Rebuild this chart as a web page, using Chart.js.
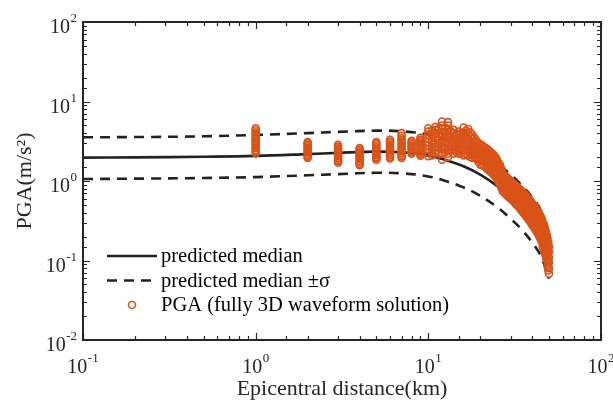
<!DOCTYPE html>
<html>
<head>
<meta charset="utf-8">
<script src="https://cdn.jsdelivr.net/npm/chart.js@4.4.1/dist/chart.umd.min.js"></script>
<style>
  html, body { margin: 0; padding: 0; background: #fff; }
  canvas { display: block; }
</style>
</head>
<body>
<canvas id="pgaChart" width="613" height="402"></canvas>
<script>
const curveDist = [0.1, 0.2, 0.5, 1, 2, 3, 5, 7, 10, 13, 16, 20, 25, 30, 35, 40, 45, 50];
const medianPGA = [1.97, 1.98, 2.02, 2.07, 2.18, 2.26, 2.34, 2.3, 2.1, 1.8, 1.53, 1.2, 0.865, 0.617, 0.441, 0.311, 0.207, 0.109];
const upperPGA  = [3.55, 3.57, 3.65, 3.8, 4.0, 4.15, 4.3, 4.22, 3.85, 3.3, 2.8, 2.22, 1.65, 1.2, 0.87, 0.62, 0.42, 0.19];
const lowerPGA  = [1.06, 1.07, 1.09, 1.12, 1.18, 1.22, 1.27, 1.25, 1.14, 0.98, 0.83, 0.65, 0.47, 0.335, 0.24, 0.168, 0.112, 0.059];

// Simulated PGA, one row of values per distance
const pgaDist = [1, 2, 3, 4, 5, 6, 7, 8, 9,
  10, 10.5, 11, 11.5, 12, 12.5, 13, 13.5, 14, 14.5, 15, 15.5, 16, 16.5, 17, 17.5, 18, 18.5, 19, 19.5,
  20, 20.5, 21, 21.5, 22, 22.5, 23, 23.5, 24, 24.5, 25, 25.5, 26, 26.5, 27, 27.5, 28, 28.5, 29, 29.5,
  30, 30.5, 31, 31.5, 32, 32.5, 33, 33.5, 34, 34.5, 35, 35.5, 36, 36.5, 37, 37.5, 38, 38.5, 39, 39.5,
  40, 40.5, 41, 41.5, 42, 42.5, 43, 43.5, 44, 44.5, 45, 45.5, 46, 46.5, 47, 47.5, 48, 48.5, 49, 49.5, 50];
const pgaValues = [
  [4.6, 4.35, 4.1, 3.9, 3.7, 3.5, 3.35, 3.2, 3.05, 2.9, 2.75, 2.6, 2.45, 2.33, 2.22],
  [3.1, 2.98, 2.86, 2.74, 2.62, 2.5, 2.4, 2.3, 2.2, 2.1, 2.02, 1.95],
  [2.85, 2.7, 2.57, 2.45, 2.34, 2.23, 2.13, 2.03, 1.94, 1.85, 1.77, 1.7],
  [2.6, 2.48, 2.37, 2.26, 2.16, 2.06, 1.97, 1.88, 1.8, 1.72, 1.64, 1.58],
  [3.1, 2.95, 2.8, 2.66, 2.53, 2.41, 2.3, 2.19, 2.09, 2.0, 1.92, 1.85],
  [3.3, 3.14, 2.98, 2.83, 2.69, 2.56, 2.44, 2.32, 2.21, 2.1, 2.0, 1.92],
  [4.0, 3.7, 3.45, 3.25, 3.08, 2.92, 2.77, 2.63, 2.5, 2.37, 2.25, 2.14, 2.04, 1.95],
  [3.2, 3.05, 2.9, 2.76, 2.63, 2.51, 2.4, 2.3, 2.2],
  [3.5, 3.33, 3.17, 3.02, 2.88, 2.75, 2.62, 2.5, 2.38, 2.27, 2.17, 2.08],
  [4.6, 4.2, 3.8, 3.4, 3.1, 2.8, 2.5, 2.25, 2.05],
  [4.3, 3.9, 3.6, 3.2, 2.9, 2.6, 2.3, 2.1],
  [4.8, 4.4, 4.0, 3.5, 3.0, 2.7, 2.4, 2.2],
  [4.5, 3.9, 3.6, 3.3, 2.9, 2.6, 2.3],
  [5.6, 5.0, 4.5, 4.0, 3.6, 3.2, 2.8, 2.5, 2.2, 1.85],
  [4.7, 4.1, 3.5, 3.0, 2.6, 2.3],
  [5.5, 5.0, 4.4, 3.8, 3.3, 2.9, 2.5, 2.2, 2.0],
  [4.2, 3.6, 3.1, 2.7, 2.4],
  [4.4, 4.0, 3.6, 3.2, 2.8, 2.5, 2.2],
  [3.9, 3.4, 3.0, 2.6, 2.3],
  [4.2, 3.8, 3.4, 3.0, 2.7, 2.4, 2.2],
  [4.0, 3.5, 3.1, 2.75, 2.45, 2.2],
  [4.7, 4.0, 3.5, 3.1, 2.7, 2.4, 2.1],
  [4.3, 3.7, 3.2, 2.85, 2.5, 2.2],
  [4.5, 3.9, 3.4, 3.0, 2.7, 2.4, 2.1],
  [4.1, 3.6, 3.2, 2.8, 2.5, 2.2, 2.0],
  [3.8, 3.4, 3.0, 2.7, 2.4, 2.15, 1.95],
  [3.5, 3.1, 2.8, 2.5, 2.25, 2.0],
  [3.2, 2.9, 2.6, 2.4, 2.15, 1.9],
  [3.0, 2.7, 2.45, 2.2, 1.95, 1.75],
  [2.9, 2.6, 2.35, 2.1, 1.85, 1.6],
  [2.8, 2.5, 2.25, 2.0, 1.8, 1.58],
  [2.7, 2.45, 2.2, 1.95, 1.75, 1.55],
  [2.6, 2.35, 2.1, 1.88, 1.68, 1.48],
  [2.5, 2.25, 2.0, 1.8, 1.6, 1.4],
  [2.4, 2.15, 1.92, 1.72, 1.53, 1.36],
  [2.3, 2.05, 1.85, 1.65, 1.45, 1.3],
  [2.2, 1.97, 1.77, 1.58, 1.4, 1.24],
  [2.1, 1.9, 1.7, 1.5, 1.33, 1.18],
  [2.0, 1.8, 1.62, 1.45, 1.28, 1.13],
  [1.85, 1.67, 1.5, 1.35, 1.2, 1.05],
  [1.7, 1.53, 1.38, 1.24, 1.11, 0.97],
  [1.6, 1.44, 1.3, 1.17, 1.05, 0.9],
  [1.42, 1.28, 1.15, 1.03, 0.93, 0.82],
  [1.25, 1.13, 1.02, 0.92, 0.82, 0.74],
  [1.2, 1.08, 0.98, 0.88, 0.8, 0.72],
  [1.15, 1.04, 0.94, 0.85, 0.77, 0.69],
  [1.11, 1.0, 0.9, 0.82, 0.74, 0.66],
  [1.07, 0.96, 0.87, 0.78, 0.71, 0.64],
  [1.03, 0.93, 0.84, 0.76, 0.68, 0.62],
  [1.0, 0.9, 0.81, 0.73, 0.66, 0.6],
  [0.97, 0.87, 0.79, 0.71, 0.64, 0.58],
  [0.94, 0.85, 0.76, 0.69, 0.62, 0.56],
  [0.91, 0.82, 0.74, 0.66, 0.6, 0.54],
  [0.88, 0.79, 0.71, 0.64, 0.58, 0.52],
  [0.85, 0.77, 0.69, 0.62, 0.56, 0.5],
  [0.83, 0.74, 0.67, 0.6, 0.54, 0.49],
  [0.8, 0.72, 0.65, 0.58, 0.52, 0.47],
  [0.78, 0.7, 0.62, 0.56, 0.5, 0.45],
  [0.75, 0.67, 0.6, 0.54, 0.48, 0.43],
  [0.73, 0.65, 0.58, 0.52, 0.47, 0.42],
  [0.71, 0.63, 0.56, 0.5, 0.45, 0.4],
  [0.69, 0.61, 0.54, 0.48, 0.43, 0.39],
  [0.66, 0.59, 0.52, 0.46, 0.41, 0.37],
  [0.64, 0.57, 0.5, 0.45, 0.4, 0.36],
  [0.62, 0.55, 0.48, 0.43, 0.38, 0.34],
  [0.6, 0.53, 0.47, 0.41, 0.37, 0.33],
  [0.58, 0.51, 0.45, 0.4, 0.35, 0.32],
  [0.56, 0.49, 0.43, 0.38, 0.34, 0.31],
  [0.54, 0.47, 0.42, 0.37, 0.33, 0.29],
  [0.52, 0.46, 0.4, 0.35, 0.32, 0.28],
  [0.5, 0.44, 0.39, 0.34, 0.3, 0.27],
  [0.49, 0.43, 0.37, 0.33, 0.29, 0.26],
  [0.47, 0.41, 0.36, 0.32, 0.28, 0.25],
  [0.45, 0.39, 0.35, 0.3, 0.27, 0.24],
  [0.43, 0.38, 0.33, 0.29, 0.26, 0.23],
  [0.42, 0.36, 0.32, 0.28, 0.25, 0.22],
  [0.4, 0.35, 0.31, 0.27, 0.24, 0.21],
  [0.38, 0.33, 0.29, 0.26, 0.23, 0.2],
  [0.36, 0.32, 0.28, 0.25, 0.22, 0.19],
  [0.35, 0.3, 0.27, 0.23, 0.21, 0.18],
  [0.33, 0.29, 0.25, 0.22, 0.2, 0.17],
  [0.3, 0.26, 0.23, 0.2, 0.18, 0.15],
  [0.29, 0.26, 0.23, 0.2, 0.17, 0.14],
  [0.27, 0.24, 0.21, 0.18, 0.15, 0.13],
  [0.25, 0.22, 0.19, 0.165, 0.14, 0.12],
  [0.23, 0.2, 0.17, 0.15, 0.13, 0.11],
  [0.21, 0.18, 0.155, 0.135, 0.115, 0.1],
  [0.19, 0.16, 0.14, 0.12, 0.1, 0.085],
  [0.17, 0.145, 0.125, 0.105, 0.09, 0.075],
  [0.15, 0.13, 0.11, 0.095, 0.08, 0.068]
];

// decade tick labels: base 10 with these exponents
const xTickExponents = ['-1', '0', '1', '2'];        // 0.1 .. 100 km
const yTickExponents = ['-2', '-1', '0', '1', '2'];  // 0.01 .. 100 m/s2

const serif = "'Liberation Serif', 'DejaVu Serif', serif";
const textColor = '#262626';
const lineColor = '#222222';
const markerColor = '#D95319';

function isDecade(v) {
  const l = Math.log10(v);
  return Math.abs(l - Math.round(l)) < 1e-6;
}

const curvePoints = vals => curveDist.map((d, i) => ({ x: d, y: vals[i] }));
const obsPoints = [];
pgaDist.forEach((d, i) => pgaValues[i].forEach(v => obsPoints.push({ x: d, y: v })));

// inward MATLAB-style ticks on all four sides, the box, and 10^n labels
const frameTicks = {
  id: 'frameTicks',
  afterDraw(chart) {
    const { ctx, chartArea: a, scales: { x, y } } = chart;
    ctx.save();
    ctx.strokeStyle = textColor;
    ctx.lineWidth = 1.2;
    ctx.beginPath();
    x.ticks.forEach(t => {
      const px = Math.round(x.getPixelForValue(t.value)) + 0.5;
      const len = isDecade(t.value) ? 7 : 4;
      ctx.moveTo(px, a.bottom); ctx.lineTo(px, a.bottom - len);
      ctx.moveTo(px, a.top); ctx.lineTo(px, a.top + len);
    });
    y.ticks.forEach(t => {
      const py = Math.round(y.getPixelForValue(t.value)) + 0.5;
      const len = isDecade(t.value) ? 7 : 4;
      ctx.moveTo(a.left, py); ctx.lineTo(a.left + len, py);
      ctx.moveTo(a.right, py); ctx.lineTo(a.right - len, py);
    });
    ctx.stroke();
    ctx.lineWidth = 2;
    ctx.strokeRect(a.left, a.top, a.right - a.left, a.bottom - a.top);

    const baseFont = '20px ' + serif, expFont = '13px ' + serif;
    ctx.fillStyle = textColor;
    ctx.textBaseline = 'middle';
    ctx.textAlign = 'left';
    const drawPow = (exp, left, baseY) => {
      ctx.font = baseFont;
      const wb = ctx.measureText('10').width;
      ctx.fillText('10', left, baseY);
      ctx.font = expFont;
      ctx.fillText(exp, left + wb + 0.5, baseY - 9);
    };
    const widthOf = exp => {
      ctx.font = baseFont;
      const wb = ctx.measureText('10').width;
      ctx.font = expFont;
      return wb + 0.5 + ctx.measureText(exp).width;
    };
    x.ticks.filter(t => isDecade(t.value)).forEach(t => {
      const exp = xTickExponents[Math.round(Math.log10(t.value)) + 1];
      const px = x.getPixelForValue(t.value);
      drawPow(exp, px - widthOf(exp) / 2, a.bottom + 28);
    });
    y.ticks.filter(t => isDecade(t.value)).forEach(t => {
      const exp = yTickExponents[Math.round(Math.log10(t.value)) + 2];
      const py = y.getPixelForValue(t.value);
      drawPow(exp, a.left - 6 - widthOf(exp), py + 6);
    });
    ctx.restore();
  }
};

// legend drawn inside the axes, lower left
const insideLegend = {
  id: 'insideLegend',
  afterDraw(chart) {
    const { ctx, chartArea: a } = chart;
    const rows = [chart.data.datasets[0], chart.data.datasets[1], chart.data.datasets[3]];
    ctx.save();
    ctx.font = '20.5px ' + serif;
    ctx.textBaseline = 'middle';
    ctx.fillStyle = '#000';
    rows.forEach((ds, i) => {
      const yy = a.top + 234 + i * 24.5;
      const x0 = a.left + 24, x1 = a.left + 74;
      ctx.strokeStyle = ds.borderColor;
      ctx.lineWidth = ds.borderWidth;
      ctx.beginPath();
      if (ds.showLine) {
        ctx.setLineDash(ds.borderDash || []);
        ctx.moveTo(x0, yy); ctx.lineTo(x1, yy);
      } else {
        ctx.arc((x0 + x1) / 2, yy, ds.pointRadius, 0, Math.PI * 2);
      }
      ctx.stroke();
      ctx.setLineDash([]);
      ctx.fillText(ds.label, x1 + 4, yy + 1);
    });
    ctx.restore();
  }
};

const ctx = document.getElementById('pgaChart').getContext('2d');
new Chart(ctx, {
  type: 'scatter',
  data: {
    datasets: [
      { label: 'predicted median', data: curvePoints(medianPGA), showLine: true, pointRadius: 0,
        borderColor: lineColor, borderWidth: 2.6, tension: 0.4, order: 2 },
      { label: 'predicted median \u00B1\u03C3', data: curvePoints(upperPGA), showLine: true, pointRadius: 0,
        borderColor: lineColor, borderWidth: 2.6, borderDash: [10, 7], tension: 0.4, order: 2 },
      { label: 'predicted median -\u03C3', data: curvePoints(lowerPGA), showLine: true, pointRadius: 0,
        borderColor: lineColor, borderWidth: 2.6, borderDash: [10, 7], tension: 0.4, order: 2 },
      { label: 'PGA (fully 3D waveform solution)', data: obsPoints, showLine: false, pointStyle: 'circle',
        pointRadius: 3.5, borderWidth: 1.6, borderColor: markerColor, backgroundColor: 'rgba(0,0,0,0)', order: 1 }
    ]
  },
  options: {
    responsive: false,
    animation: false,
    layout: { padding: { top: 22, right: 12, left: 0, bottom: 0 } },
    plugins: { legend: { display: false }, tooltip: { enabled: false } },
    scales: {
      x: {
        type: 'logarithmic',
        min: 0.1,
        max: 100,
        grid: { display: false, drawTicks: false },
        border: { display: false },
        ticks: { display: false, autoSkip: false },
        title: { display: true, text: 'Epicentral distance(km)', color: textColor,
                 font: { family: serif, size: 22 }, padding: { top: 0, bottom: 0 } },
        afterFit(scale) { scale.height = 62; scale.paddingLeft = 0; scale.paddingRight = 0; }
      },
      y: {
        type: 'logarithmic',
        min: 0.01,
        max: 100,
        grid: { display: false, drawTicks: false },
        border: { display: false },
        ticks: { display: false, autoSkip: false },
        title: { display: true, text: 'PGA(m/s\u00B2)', color: textColor,
                 font: { family: serif, size: 22 }, padding: { top: 12, bottom: 0 } },
        afterFit(scale) { scale.width = 83; scale.paddingTop = 0; scale.paddingBottom = 0; }
      }
    }
  },
  plugins: [frameTicks, insideLegend]
});
</script>
</body>
</html>
